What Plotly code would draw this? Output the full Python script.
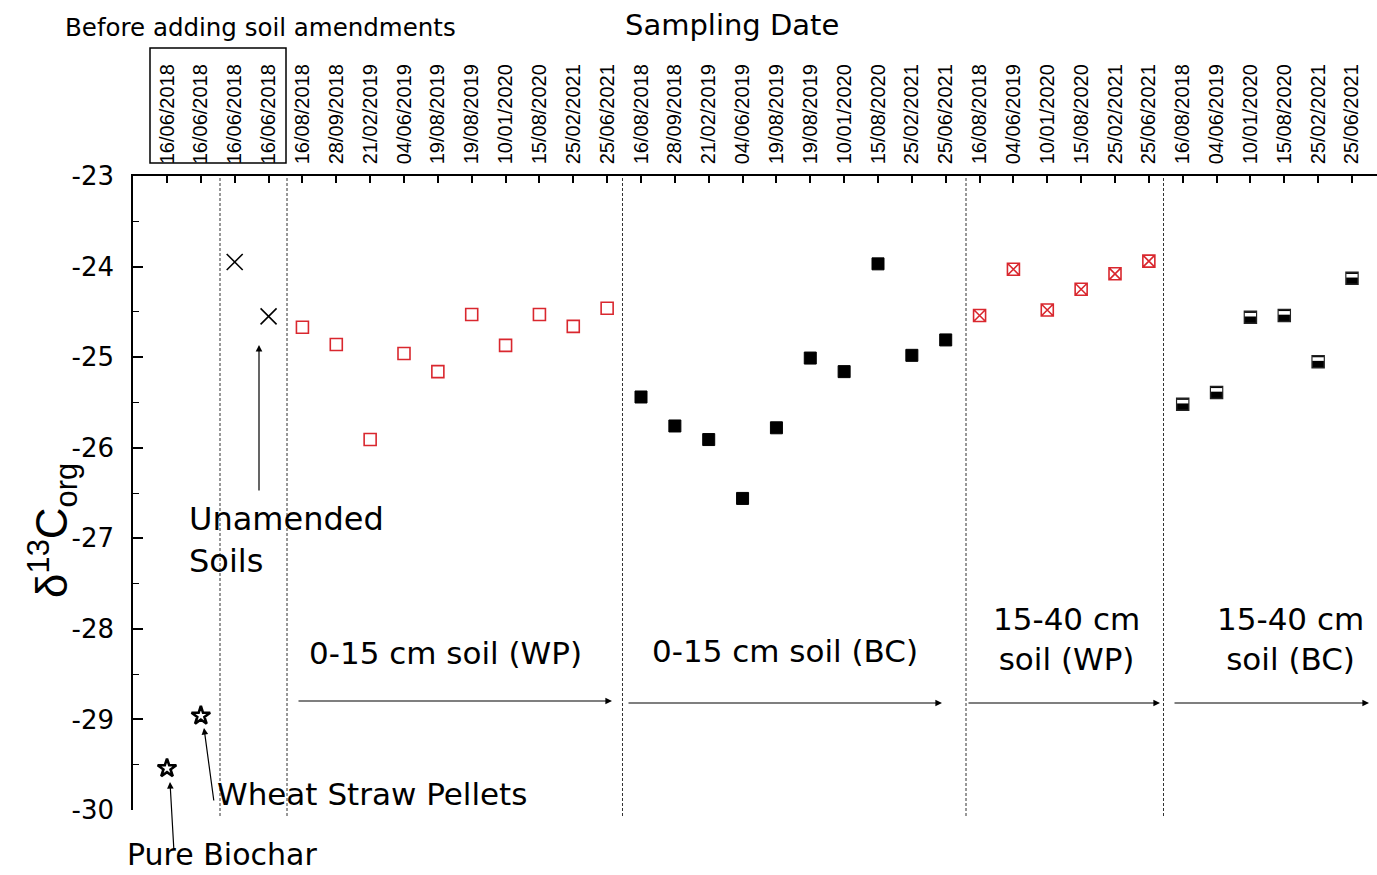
import plotly.graph_objects as go

# ---------------- data ----------------
dates_before = ["16/06/2018", "16/06/2018", "16/06/2018", "16/06/2018"]
dates_wp_0_15 = ["16/08/2018", "28/09/2018", "21/02/2019", "04/06/2019", "19/08/2019",
                 "19/08/2019", "10/01/2020", "15/08/2020", "25/02/2021", "25/06/2021"]
dates_bc_0_15 = ["16/08/2018", "28/09/2018", "21/02/2019", "04/06/2019", "19/08/2019",
                 "19/08/2019", "10/01/2020", "15/08/2020", "25/02/2021", "25/06/2021"]
dates_wp_15_40 = ["16/08/2018", "04/06/2019", "10/01/2020", "15/08/2020", "25/02/2021", "25/06/2021"]
dates_bc_15_40 = ["16/08/2018", "04/06/2019", "10/01/2020", "15/08/2020", "25/02/2021", "25/06/2021"]

pure_biochar = [-29.54]
wheat_straw = [-28.96]
unamended = [-23.95, -24.55]
wp_0_15 = [-24.67, -24.86, -25.91, -24.96, -25.16, -24.53, -24.87, -24.53, -24.66, -24.46]
bc_0_15 = [-25.44, -25.76, -25.91, -26.56, -25.78, -25.01, -25.16, -23.97, -24.98, -24.81]
wp_15_40 = [-24.54, -24.03, -24.48, -24.25, -24.08, -23.94]
bc_15_40 = [-25.52, -25.39, -24.56, -24.54, -25.05, -24.13]

y_tick_vals = [-30, -29, -28, -27, -26, -25, -24, -23]
y_tick_text = ["-30", "-29", "-28", "-27", "-26", "-25", "-24", "-23"]

tick_labels = dates_before + dates_wp_0_15 + dates_bc_0_15 + dates_wp_15_40 + dates_bc_15_40
tick_pos = list(range(len(tick_labels)))

# x positions derived from group order
i0 = 0
x_biochar = [i0]
x_wheat = [i0 + 1]
x_unam = [i0 + 2, i0 + 3]
s1 = len(dates_before)
x_wp015 = list(range(s1, s1 + len(wp_0_15)))
s2 = s1 + len(wp_0_15)
x_bc015 = list(range(s2, s2 + len(bc_0_15)))
s3 = s2 + len(bc_0_15)
x_wp1540 = list(range(s3, s3 + len(wp_15_40)))
s4 = s3 + len(wp_15_40)
x_bc1540 = list(range(s4, s4 + len(bc_15_40)))

# ---------------- layout geometry ----------------
W, H = 1377, 875
L, T, R, B = 133, 176, 0, 65
PW, PH = W - L - R, H - T - B
X0PX, DXPX = 167.0, 33.857


def xd(px):
    return (px - X0PX) / DXPX


def xp(px):
    return (px - L) / PW


def yp(py):
    return (T + PH - py) / PH


RED = "#d9272e"
FONT = "DejaVu Sans"

fig = go.Figure()

fig.add_trace(go.Scatter(x=x_biochar, y=pure_biochar, mode="markers",
                         marker=dict(symbol="star-open", size=14, color="black",
                                     line=dict(width=2.6, color="black")),
                         showlegend=False))
fig.add_trace(go.Scatter(x=x_wheat, y=wheat_straw, mode="markers",
                         marker=dict(symbol="star-open", size=14, color="black",
                                     line=dict(width=2.6, color="black")),
                         showlegend=False))
fig.add_trace(go.Scatter(x=x_unam, y=unamended, mode="markers",
                         marker=dict(symbol="x-thin-open", size=16, color="black",
                                     line=dict(width=1.6, color="black")),
                         showlegend=False))
fig.add_trace(go.Scatter(x=x_wp015, y=wp_0_15, mode="markers",
                         marker=dict(symbol="square-open", size=12, color=RED,
                                     line=dict(width=1.6, color=RED)),
                         showlegend=False))
fig.add_trace(go.Scatter(x=x_bc015, y=bc_0_15, mode="markers",
                         marker=dict(symbol="square", size=12, color="black",
                                     line=dict(width=1, color="black")),
                         showlegend=False))
fig.add_trace(go.Scatter(x=x_wp1540, y=wp_15_40, mode="markers",
                         marker=dict(symbol="square-x-open", size=12, color=RED,
                                     line=dict(width=1.6, color=RED)),
                         showlegend=False))
fig.add_trace(go.Scatter(x=x_bc1540, y=bc_15_40, mode="markers",
                         marker=dict(symbol="square", size=12, color="black",
                                     line=dict(width=1.5, color="#222222")),
                         showlegend=False))
# white upper part of the half-filled squares
units_per_px = 7.0 / PH
fig.add_trace(go.Scatter(x=x_bc1540, y=[v + 2.6 * units_per_px for v in bc_15_40], mode="markers",
                         marker=dict(symbol="line-ew-open", size=8, color="white",
                                     line=dict(width=3.6, color="white")),
                         showlegend=False, hoverinfo="skip"))

# dashed separators
shapes = []
for px in [220, 287, 622.5, 966, 1163.5]:
    shapes.append(dict(type="line", xref="x", yref="paper", x0=xd(px), x1=xd(px),
                       y0=yp(816), y1=1, line=dict(color="#333333", width=1, dash="3px,2px")))
# box around the "before" tick labels
shapes.append(dict(type="rect", xref="x", yref="paper", x0=xd(150), x1=xd(286),
                   y0=yp(163), y1=yp(48), line=dict(color="black", width=1.5)))

annotations = []


def text(px, py, s, size, xanchor="left", align="left", yanchor="middle"):
    annotations.append(dict(xref="paper", yref="paper", x=xp(px), y=yp(py), text=s,
                            showarrow=False, xanchor=xanchor, yanchor=yanchor, align=align,
                            font=dict(family=FONT, size=size, color="black")))


def arrow(tail, tip):
    annotations.append(dict(xref="paper", yref="paper", x=xp(tip[0]), y=yp(tip[1]),
                            axref="pixel", ayref="pixel",
                            ax=tail[0] - tip[0], ay=tail[1] - tip[1], text="",
                            showarrow=True, arrowhead=2, arrowsize=1.1, arrowwidth=1.2,
                            arrowcolor="black", standoff=0, startstandoff=0))


text(732, 25, "Sampling Date", 29, xanchor="center")
text(63, 28, "Before adding soil amendments", 24.5)
text(187, 540, "Unamended<br>Soils", 32)
text(215, 794, "Wheat Straw Pellets", 31)
text(125, 874, "Pure Biochar", 30, yanchor="bottom")
text(445, 653, "0-15 cm soil (WP)", 31, xanchor="center")
text(785, 651, "0-15 cm soil (BC)", 31, xanchor="center")
text(1066, 639, "15-40 cm<br>soil (WP)", 31, xanchor="center", align="center")
text(1290, 639, "15-40 cm<br>soil (BC)", 31, xanchor="center", align="center")

arrow((259, 492), (259, 345))
arrow((214, 802), (204, 728))
arrow((174, 852), (170, 782))
arrow((297, 701), (612, 701))
arrow((627, 703), (942, 703))
arrow((967, 703), (1160, 703))
arrow((1173, 703), (1369, 703))

# y-axis title
annotations.append(dict(xref="paper", yref="paper", x=xp(52), y=yp(531),
                        text="δ<sup>13</sup>C<sub>org</sub>", showarrow=False, textangle=-90,
                        xanchor="center", yanchor="middle",
                        font=dict(family="Liberation Sans, Arial", size=44, color="black")))

fig.update_layout(
    width=W, height=H,
    margin=dict(l=L, r=R, t=T, b=B, pad=0),
    paper_bgcolor="white", plot_bgcolor="white",
    showlegend=False,
    shapes=shapes,
    annotations=annotations,
    xaxis=dict(side="top", range=[xd(L), xd(W - R)], tickmode="array",
               tickvals=tick_pos, ticktext=tick_labels, tickangle=-90,
               ticks="inside", ticklen=7, tickwidth=1.5, tickcolor="black",
               showline=True, linecolor="black", linewidth=1.5, showgrid=False,
               zeroline=False, ticklabelstandoff=6,
               tickfont=dict(family="Liberation Sans, Arial", size=20, color="black")),
    yaxis=dict(range=[-30, -23], tickmode="array", tickvals=y_tick_vals, ticktext=y_tick_text,
               ticks="inside", ticklen=10, tickwidth=1.5, tickcolor="black",
               minor=dict(tickmode="linear", tick0=-30, dtick=0.5, ticks="inside", ticklen=6,
                          tickwidth=1.2, tickcolor="black"),
               showline=True, linecolor="black", linewidth=1.5, showgrid=False,
               zeroline=False, ticklabelstandoff=12,
               tickfont=dict(family=FONT, size=26, color="black")),
)

fig.write_html("out.html")
